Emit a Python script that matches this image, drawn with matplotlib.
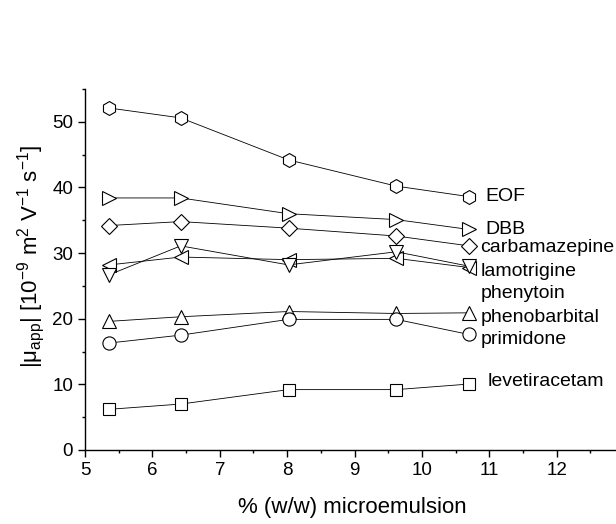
import matplotlib
matplotlib.use("Agg")
import matplotlib.pyplot as plt
from matplotlib.ticker import MultipleLocator

plt.rcParams['font.family'] = ['Liberation Sans', 'DejaVu Sans']
plt.rcParams['mathtext.fontset'] = 'custom'
plt.rcParams['mathtext.rm'] = 'Liberation Sans'
plt.rcParams['mathtext.it'] = 'Liberation Sans:italic'

x = [5.36, 6.42, 8.02, 9.62, 10.70]

series_names = ["EOF", "DBB", "carbamazepine", "lamotrigine", "phenytoin",
                "phenobarbital", "primidone", "levetiracetam"]
eof = [52.1, 50.6, 44.2, 40.2, 38.6]
dbb = [38.4, 38.4, 36.0, 35.1, 33.6]
carbamazepine = [34.2, 34.8, 33.8, 32.6, 31.1]
lamotrigine = [28.2, 29.4, 29.0, 29.2, 27.8]
phenytoin = [26.7, 31.1, 28.2, 30.2, 28.0]
phenobarbital = [19.6, 20.3, 21.1, 20.8, 20.9]
primidone = [16.3, 17.5, 19.9, 19.9, 17.6]
levetiracetam = [6.2, 7.0, 9.2, 9.2, 10.05]

values = [eof, dbb, carbamazepine, lamotrigine, phenytoin,
          phenobarbital, primidone, levetiracetam]
markers = ['h', '>', 'D', '<', 'v', '^', 'o', 's']
msizes = [10, 10, 8.5, 10, 10, 10, 9.5, 8.5]

xticks = [5, 6, 7, 8, 9, 10, 11, 12]
yticks = [0, 10, 20, 30, 40, 50]

fig = plt.figure(figsize=(6.16, 5.24), dpi=100)
ax = fig.add_axes([85/616, 74/524, 531/616, 361/524])

for vals, m, ms in zip(values, markers, msizes):
    ax.plot(x, vals, color='black', linewidth=0.6, marker=m, markersize=ms,
            markerfacecolor='white', markeredgecolor='black', markeredgewidth=0.8)

ax.set_xlim(5, 12.88)
ax.set_ylim(0, 55)
ax.set_xticks(xticks)
ax.set_yticks(yticks)
ax.xaxis.set_minor_locator(MultipleLocator(0.5))
ax.yaxis.set_minor_locator(MultipleLocator(5))
ax.tick_params(which='major', direction='out', length=5, width=1, labelsize=13.5, pad=3.5)
ax.tick_params(which='minor', direction='out', length=2.5, width=1)
ax.spines['top'].set_visible(False)
ax.spines['right'].set_visible(False)
for s in ['left', 'bottom']:
    ax.spines[s].set_linewidth(1.0)

# series labels at right
label_pos = [(485, 197), (485, 229), (480, 248), (481, 271.5), (481, 294),
             (481, 317), (481, 340), (488, 381.5)]
for name, (px, py) in zip(series_names, label_pos):
    fig.text(px/616, 1 - py/524, name, fontsize=14, ha='left', va='center')

fig.text(352/616, 1 - 508/524, "% (w/w) microemulsion", fontsize=16,
         ha='center', va='center')
fig.text(31/616, 1 - 256/524,
         "|μ$_{\\mathrm{app}}$| [10$^{\\mathrm{-9}}$ m$^{\\mathrm{2}}$ V$^{\\mathrm{-1}}$ s$^{\\mathrm{-1}}$]",
         fontsize=16, rotation=90, ha='center', va='center')

fig.savefig("out.png", dpi=100)
